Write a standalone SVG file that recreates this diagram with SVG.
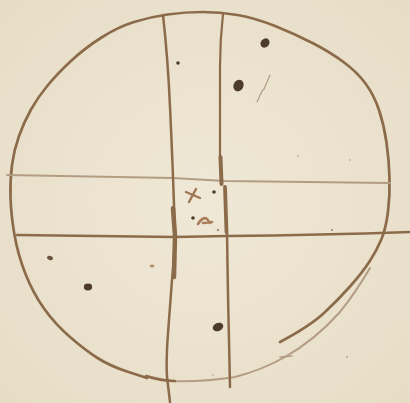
<svg xmlns="http://www.w3.org/2000/svg" width="410" height="403" viewBox="0 0 410 403">
<defs>
<style>
.ink{fill:none;stroke:#8c6b4b;stroke-linecap:round;stroke-linejoin:round}
.light{fill:none;stroke:#b29d82;stroke-linecap:round;stroke-linejoin:round}
.dot{fill:#4d3b2c}
</style>
<radialGradient id="paper" cx="50%" cy="50%" r="70%">
<stop offset="0" stop-color="#efe8d6"/>
<stop offset="1" stop-color="#e7ddc7"/>
</radialGradient>
</defs>
<rect width="410" height="403" fill="url(#paper)"/>
<g id="ring">
<path class="ink" stroke-width="2.7" d="M 147,378 L 128.5,372 Q 110,366 97.5,358 Q 85,350 70,337 Q 55,324 44,308.5 Q 33,293 25.5,274 Q 18,255 14.5,235 Q 11,215 10.5,197.5 Q 10,180 12,165 Q 14,150 19,136 Q 24,122 31,109.5 Q 38,97 48,85 Q 58,73 71.5,60.5 Q 85,48 101.5,37.5 Q 118,27 134,22 Q 150,17 167.5,14.5 Q 185,12 202.5,12 Q 220,12 237.5,15 Q 255,18 275,26 Q 295,34 312.5,43 Q 330,52 343.5,62 Q 357,72 365.5,83.5 Q 374,95 379,110 Q 384,125 386.5,142.5 Q 389,160 389.5,177.5 Q 390,195 388,211.5 Q 386,228 381.5,239 Q 377,250 369.5,261.5 Q 362,273 350,286.5 Q 338,300 324,313 Q 310,326 280,342"/>
<path class="light" stroke-width="2" d="M 370,268 Q 356,292 340,312 Q 315,340 285,357 Q 262,370 235,377 Q 205,382 170,381 L 147,376"/>
<path class="ink" stroke-width="2.6" d="M 146,376 Q 160,381 175,381"/>
<path class="light" stroke-width="1.6" d="M 280,357 L 292,356"/>
</g>
<g id="lines">
<path class="light" stroke-width="1.8" d="M 7,175 Q 100,177 173,178 L 225,181 Q 300,182 390,183"/>
<path class="ink" stroke-width="2.6" d="M 17,235 Q 100,236 175,237 L 227,236 Q 320,235 410,232"/>
<path class="ink" stroke-width="2.5" d="M 163,15 Q 168,60 170,107 Q 172,150 173,177 L 175,233 Q 174,260 172,280 L 168,333 Q 166,360 167,377 L 170,402"/>
<path class="ink" stroke-width="4.5" d="M 173,208 L 175,236 L 174,277"/>
<path class="ink" stroke-width="2.2" d="M 223,14 Q 220,40 220,67 L 220,157"/>
<path class="ink" stroke-width="4" d="M 220.5,157 L 221.5,184"/>
<path class="ink" stroke-width="3.8" d="M 225,187 L 226.5,232"/>
<path class="ink" stroke-width="2.5" d="M 227,232 Q 228,300 229,340 L 230,387"/>
</g>
<g id="marks">
<ellipse class="dot" cx="265" cy="43" rx="4.2" ry="5" transform="rotate(40 265 43)"/>
<ellipse class="dot" cx="238.5" cy="85.5" rx="5" ry="6" transform="rotate(25 238.5 85.5)"/>
<circle class="dot" cx="178" cy="63" r="1.8"/>
<ellipse cx="50" cy="258" rx="3" ry="2" transform="rotate(20 50 258)" fill="#6a5340"/>
<ellipse cx="152" cy="266" rx="2.5" ry="1.6" fill="#b39272"/>
<ellipse class="dot" cx="88" cy="287" rx="4.2" ry="3.4"/>
<ellipse class="dot" cx="218" cy="327" rx="5.5" ry="4" transform="rotate(-25 218 327)"/>
<path class="light" stroke-width="1.2" d="M 257,102 L 262,91 L 264,89 L 270,75"/>
<path fill="none" stroke="#9e7653" stroke-width="2.4" stroke-linecap="round" d="M 186,192 L 200,198 M 196,189 L 189,202"/>
<circle class="dot" cx="214" cy="192" r="1.8"/>
<circle class="dot" cx="193" cy="218" r="1.8"/>
<path fill="none" stroke="#a97d58" stroke-width="2.6" stroke-linecap="round" stroke-linejoin="round" d="M 198,224 Q 203,216 207,219 L 210,223 M 203,223 L 212,222"/>
<circle cx="218" cy="230" r="1.3" fill="#b09677"/>
<circle cx="298" cy="156" r="0.8" fill="#a99780"/>
<circle cx="350" cy="160" r="0.8" fill="#a99780"/>
<circle cx="332" cy="230" r="0.9" fill="#8f7a62"/>
<circle cx="213" cy="375" r="0.8" fill="#a99780"/>
<circle cx="347" cy="357" r="0.8" fill="#8f7a62"/>
</g>
</svg>
